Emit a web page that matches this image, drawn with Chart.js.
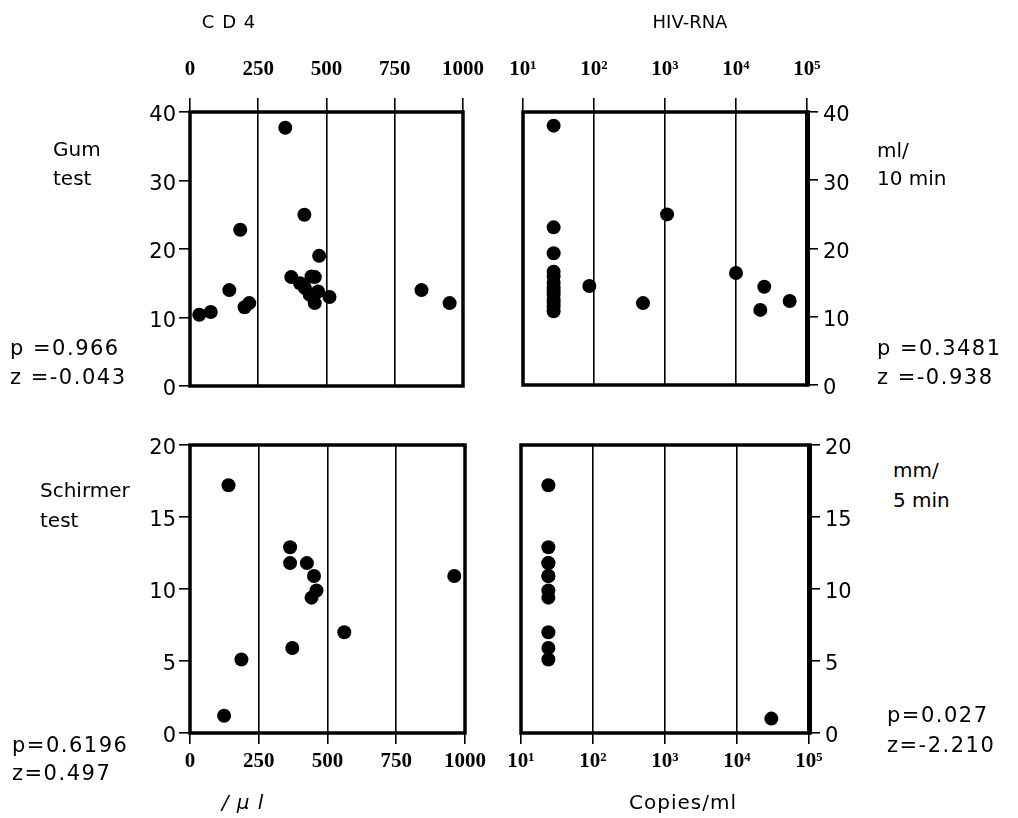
<!DOCTYPE html>
<html><head><meta charset="utf-8">
<script src="https://cdn.jsdelivr.net/npm/chart.js@4.4.1/dist/chart.umd.min.js"></script>
<style>
html,body{margin:0;padding:0;background:#fff;}
#wrap{position:relative;width:1018px;height:818px;overflow:hidden;background:#fff;}
canvas{position:absolute;}
.t{position:absolute;font-family:"DejaVu Sans",sans-serif;color:#000;white-space:nowrap;line-height:1;font-size:20px;transform:translateY(-50%);z-index:2;}
.n{letter-spacing:1.5px;font-size:21px;}
.c{transform:translate(-50%,-50%);}
</style></head><body><div id="wrap">
<canvas id="tl" width="400" height="376" style="left:100px;top:30px;"></canvas>
<canvas id="tr" width="400" height="376" style="left:490px;top:30px;"></canvas>
<canvas id="bl" width="400" height="398" style="left:100px;top:420px;"></canvas>
<canvas id="br" width="400" height="398" style="left:490px;top:420px;"></canvas>

<div class="t c" style="left:229px;top:22px;font-size:18px;letter-spacing:1px;">C D 4</div>
<div class="t c" style="left:690px;top:22px;font-size:18px;">HIV-RNA</div>

<div class="t" style="left:53px;top:149px;">Gum</div>
<div class="t" style="left:53px;top:178px;">test</div>
<div class="t n" style="left:10px;top:348px;">p =0.966</div>
<div class="t n" style="left:10px;top:377px;">z =-0.043</div>

<div class="t" style="left:40px;top:490px;">Schirmer</div>
<div class="t" style="left:40px;top:520px;">test</div>
<div class="t n" style="left:12px;top:745px;">p=0.6196</div>
<div class="t n" style="left:12px;top:773px;">z=0.497</div>

<div class="t" style="left:877px;top:150px;">ml/</div>
<div class="t" style="left:877px;top:178px;">10 min</div>
<div class="t n" style="left:877px;top:348px;">p =0.3481</div>
<div class="t n" style="left:877px;top:377px;">z =-0.938</div>

<div class="t" style="left:893px;top:470px;">mm/</div>
<div class="t" style="left:893px;top:500px;">5 min</div>
<div class="t n" style="left:887px;top:715px;">p=0.027</div>
<div class="t n" style="left:887px;top:745px;">z=-2.210</div>

<div class="t c" style="left:243px;top:802px;font-style:italic;letter-spacing:1px;">/ μ l</div>
<div class="t c" style="left:683px;top:802px;letter-spacing:1px;">Copies/ml</div>
</div>
<script>
// ---- data ----
const cd4Ticks = [0, 250, 500, 750, 1000];
const cd4TickLabels = ['0', '250', '500', '750', '1000'];
const rnaTicks = [10, 100, 1000, 10000, 100000];
const rnaTickLabels = ['10\u00B9', '10\u00B2', '10\u00B3', '10\u2074', '10\u2075'];
const gumTicks = [0, 10, 20, 30, 40];
const gumTickLabels = ['0', '10', '20', '30', '40'];
const schTicks = [0, 5, 10, 15, 20];
const schTickLabels = ['0', '5', '10', '15', '20'];

// Gum test vs CD4
const gumCd4X = [34, 76, 144, 184, 200, 217, 349, 419, 371, 403, 421, 445, 457, 469, 439, 457, 473, 511, 848, 951];
const gumCd4Y = [10.4, 10.8, 14.0, 22.8, 11.5, 12.1, 37.7, 25.0, 15.9, 15.0, 14.3, 16.0, 15.9, 13.8, 13.3, 12.1, 19.0, 13.0, 14.0, 12.1];
// Gum test vs HIV-RNA
const gumRnaX = [27, 27, 27, 27, 27, 27, 27, 27, 27, 27, 27, 27, 27, 86, 490, 1070, 10000, 25000, 22000, 57000];
const gumRnaY = [38.0, 23.1, 19.3, 16.6, 15.9, 15.0, 14.3, 13.8, 13.3, 12.6, 12.1, 11.5, 10.8, 14.5, 12.0, 25.0, 16.4, 14.4, 11.0, 12.3];
// Schirmer test vs CD4
const schCd4X = [140, 124, 187, 364, 364, 425, 451, 460, 442, 372, 561, 961];
const schCd4Y = [17.2, 1.2, 5.1, 12.9, 11.8, 11.8, 10.9, 9.9, 9.4, 5.9, 7.0, 10.9];
// Schirmer test vs HIV-RNA
const schRnaX = [24, 24, 24, 24, 24, 24, 24, 24, 24, 24, 24, 30000];
const schRnaY = [17.2, 12.9, 11.8, 11.8, 10.9, 10.9, 9.9, 9.4, 7.0, 5.9, 5.1, 1.0];

// ---- drawing ----
const frame = {
  id: 'frame',
  afterDraw(c, args, o) {
    const a = c.chartArea, ctx = c.ctx;
    ctx.save();
    ctx.strokeStyle = '#000';
    ctx.lineWidth = 3.5;
    ctx.strokeRect(a.left, a.top, a.right - a.left, a.bottom - a.top);
    if (o.thickRight) {
      ctx.lineWidth = 5;
      ctx.beginPath(); ctx.moveTo(a.right + 0.5, a.top - 1.5); ctx.lineTo(a.right + 0.5, a.bottom + 1.5); ctx.stroke();
    }
    ctx.restore();
  }
};

function panel(id, p) {
  const top = p.xPos === 'top';
  const left = p.yPos === 'left';
  new Chart(document.getElementById(id), {
    type: 'scatter',
    data: { datasets: [{
      data: p.xs.map((x, i) => ({ x: x, y: p.ys[i] })),
      pointRadius: 7, pointHoverRadius: 7,
      backgroundColor: '#000', borderWidth: 0
    }] },
    options: {
      responsive: false, animation: false, events: [],
      layout: { padding: p.pad },
      plugins: { legend: { display: false }, tooltip: { enabled: false }, frame: { thickRight: !left } },
      scales: {
        x: {
          type: p.xType, position: p.xPos,
          min: p.xTicks[0], max: p.xTicks[p.xTicks.length - 1],
          afterBuildTicks: s => { s.ticks = p.xTicks.map(v => ({ value: v })); },
          afterFit: s => { s.height = top ? 82 : 80; },
          border: { display: false },
          grid: { color: '#000', lineWidth: 1.6, tickLength: top ? 14 : 11, drawOnChartArea: true, drawTicks: true },
          ticks: {
            autoSkip: false, maxRotation: 0, minRotation: 0,
            padding: top ? 16 : 5, color: '#000',
            font: { family: 'Liberation Serif', weight: 'bold', size: 21 },
            callback: (v, i) => p.xLabels[i]
          }
        },
        y: {
          type: 'linear', position: p.yPos,
          min: p.yTicks[0], max: p.yTicks[p.yTicks.length - 1],
          afterBuildTicks: s => { s.ticks = p.yTicks.map(v => ({ value: v })); },
          afterFit: s => { s.width = left ? 90 : 60; },
          border: { display: false },
          grid: { color: '#000', lineWidth: 1.6, tickLength: 11, drawOnChartArea: false, drawTicks: true },
          ticks: {
            padding: left ? 3 : 5, color: '#000', labelOffset: 4,
            font: { family: 'DejaVu Sans', size: 21 },
            callback: (v, i) => p.yLabels[i]
          }
        }
      }
    },
    plugins: [frame]
  });
}

panel('tl', { xs: gumCd4X, ys: gumCd4Y, xType: 'linear', xTicks: cd4Ticks, xLabels: cd4TickLabels,
  yTicks: gumTicks, yLabels: gumTickLabels, xPos: 'top', yPos: 'left',
  pad: { left: 0, top: 0, right: 33, bottom: 20 } });
panel('tr', { xs: gumRnaX, ys: gumRnaY, xType: 'logarithmic', xTicks: rnaTicks, xLabels: rnaTickLabels,
  yTicks: gumTicks, yLabels: gumTickLabels, xPos: 'top', yPos: 'right',
  pad: { left: 33, top: 0, right: 23, bottom: 21 } });
panel('bl', { xs: schCd4X, ys: schCd4Y, xType: 'linear', xTicks: cd4Ticks, xLabels: cd4TickLabels,
  yTicks: schTicks, yLabels: schTickLabels, xPos: 'bottom', yPos: 'left',
  pad: { left: 0, top: 25, right: 35, bottom: 5 } });
panel('br', { xs: schRnaX, ys: schRnaY, xType: 'logarithmic', xTicks: rnaTicks, xLabels: rnaTickLabels,
  yTicks: schTicks, yLabels: schTickLabels, xPos: 'bottom', yPos: 'right',
  pad: { left: 31, top: 25, right: 21, bottom: 5 } });
</script>
</body></html>
